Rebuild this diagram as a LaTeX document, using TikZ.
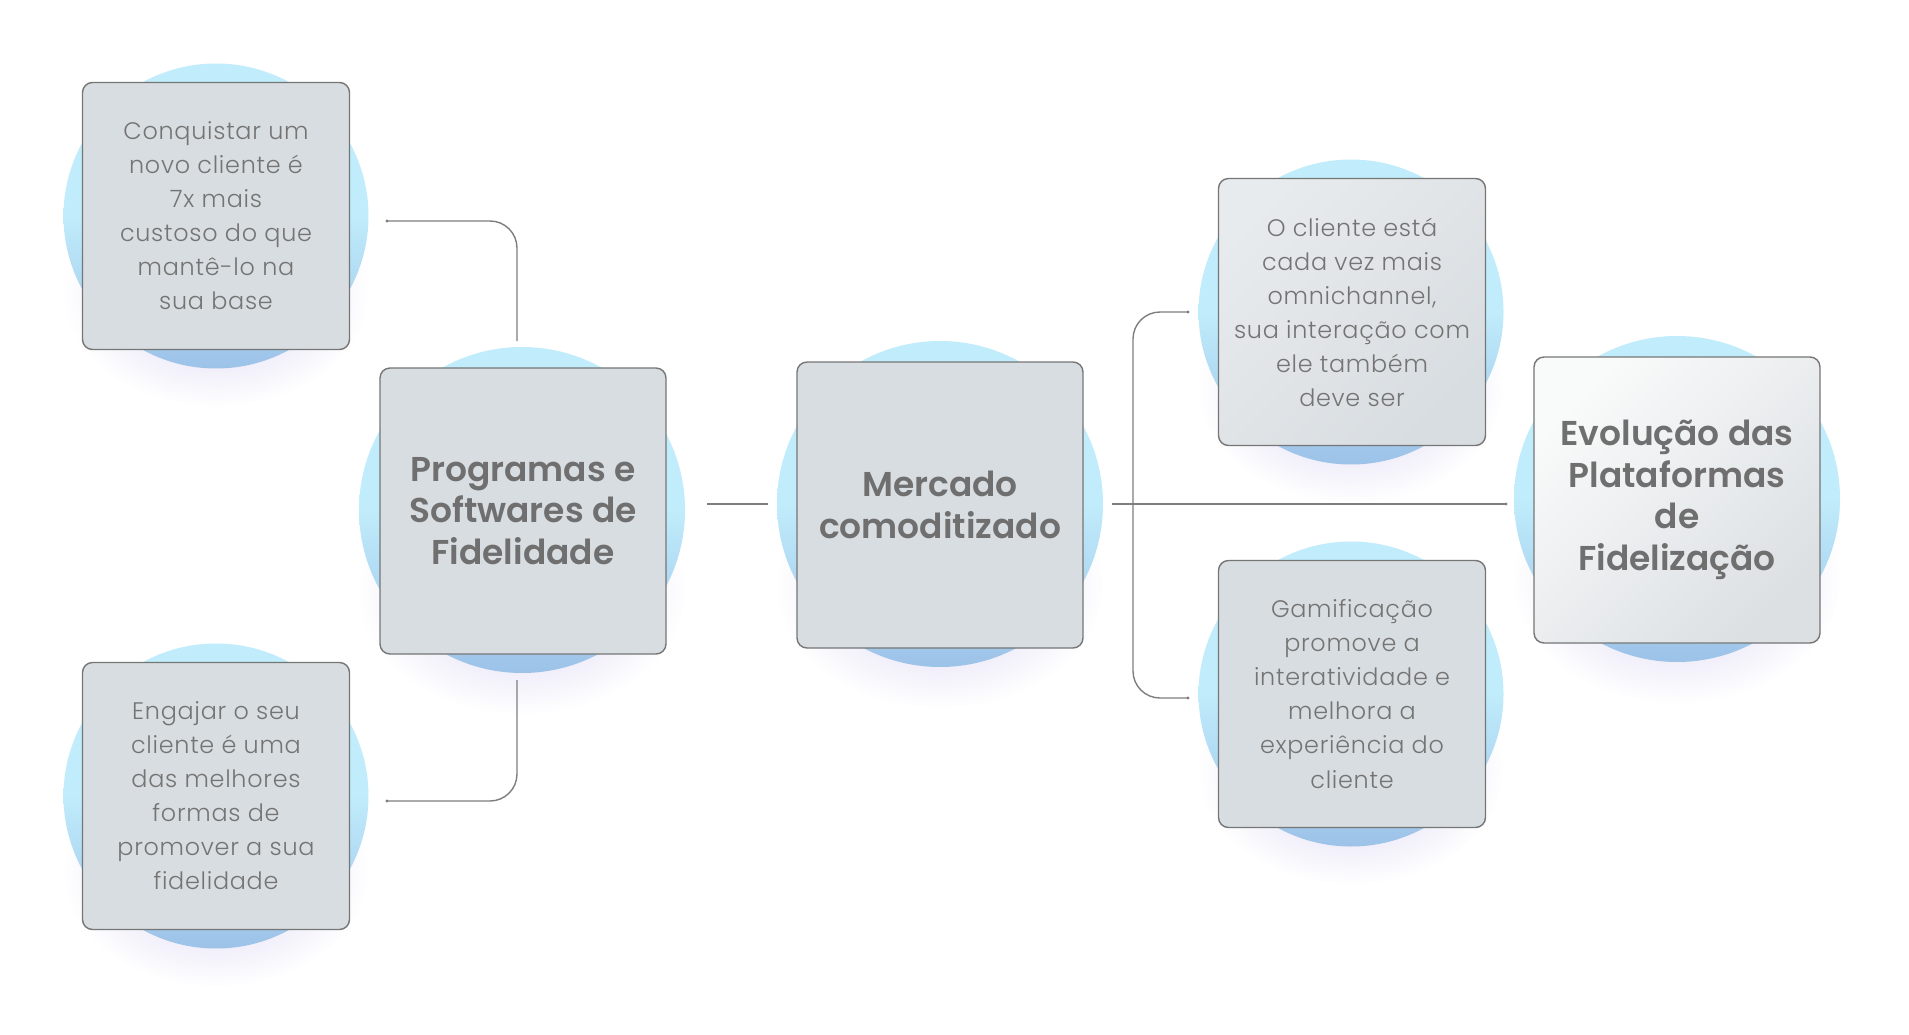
\documentclass[tikz,border=0pt]{standalone}
\usepackage{fontspec}
\setmainfont{Poppins}
\newfontfamily\bodyf[LetterSpace=3]{Poppins Light}
\newfontfamily\titlef{Poppins SemiBold}
\usetikzlibrary{fadings,calc}
\definecolor{cyanL}{HTML}{C0ECFB}
\definecolor{blueB}{HTML}{9CC2E8}
\definecolor{cardF}{HTML}{D8DDE1}
\definecolor{cardL}{HTML}{F9FAFA}
\definecolor{cardM}{HTML}{DCE0E3}
\definecolor{edgeC}{HTML}{767676}
\definecolor{txtC}{HTML}{747474}
\definecolor{ttlC}{HTML}{6F6F6F}
\definecolor{lineC}{HTML}{7E7E7E}
\definecolor{glowC}{HTML}{CFC7EE}
\tikzfading[name=softglow, inner color=transparent!15, outer color=transparent!100]
\begin{document}
\begin{tikzpicture}[x=0.05cm,y=-0.05cm,
  bubble/.style={circle, minimum size=#1, inner sep=0pt, draw=none,
    top color=cyanL, bottom color=blueB, middle color=cyanL},
  card/.style={draw=edgeC, line width=2pt, rounded corners=0.5cm, fill=cardF,
    minimum width=#1, minimum height=#1, inner sep=0pt, align=center},
  smalltxt/.style={text=txtC, font=\bodyf\fontsize{34pt}{48.4pt}\selectfont},
  bigtxt/.style={text=ttlC, font=\titlef\fontsize{49pt}{59pt}\selectfont},
  link/.style={draw=lineC, line width=2pt},
  enddot/.style={fill=lineC, radius=2.2pt}]
\useasboundingbox[fill=white] (0,0) rectangle (1909,1034);

% soft glows below the circles
\foreach \cx/\cy/\r in {216/216/152, 216/796/152, 522/510/163, 940/504/163, 1351/312/152, 1351/694/152, 1677/499/163}{
  \fill[glowC, path fading=softglow] (\cx,\cy+0.5*\r) ellipse ({1.0*\r} and {0.75*\r});
}

% circles
\node[bubble=15.25cm] (c1) at (216,216) {};
\node[bubble=15.25cm] (c4) at (216,796) {};
\node[bubble=16.3cm] (c2) at (522,510) {};
\node[bubble=16.3cm] (c3) at (940,504) {};
\node[bubble=15.25cm] (c5) at (1351,312) {};
\node[bubble=15.25cm] (c6) at (1351,694) {};
\node[bubble=16.3cm] (c7) at (1677,499) {};

% cards
\node[card=13.35cm, smalltxt] (b1) at (216,216) {Conquistar um\\novo cliente é\\7x mais\\custoso do que\\mantê-lo na\\sua base};
\node[card=13.35cm, smalltxt] (b4) at (216,796) {Engajar o seu\\cliente é uma\\das melhores\\formas de\\promover a sua\\fidelidade};
\node[card=14.3cm, bigtxt] (b2) at (523,511) {Programas e\\Softwares de\\Fidelidade};
\node[card=14.3cm, bigtxt] (b3) at (940,505) {Mercado\\comoditizado};
\node[card=13.35cm, smalltxt, top color=cardF!60!white, bottom color=cardF, shading angle=45] (b5) at (1352,312) {O cliente está\\cada vez mais\\omnichannel,\\sua interação com\\ele também\\deve ser};
\node[card=13.35cm, smalltxt] (b6) at (1352,694) {Gamificação\\promove a\\interatividade e\\melhora a\\experiência do\\cliente};
\node[card=14.3cm, bigtxt, top color=cardL, bottom color=cardM, shading angle=45] (b7) at (1677,500) {Evolução das\\Plataformas\\de\\Fidelização};

% connector end points
\coordinate (t1) at (387,221);
\coordinate (t1b) at (517,341);
\coordinate (t4) at (387,801);
\coordinate (t4b) at (517,680);
\coordinate (m1) at (707,504);
\coordinate (m2) at (768,504);
\coordinate (n1) at (1112,504);
\coordinate (n2) at (1506,504);
\coordinate (r5) at (1188,312);
\coordinate (r6) at (1188,698);
\coordinate (rv) at (1133,504);

\draw[link, rounded corners=1.35cm] (t1) -| (t1b);
\draw[link, rounded corners=1.35cm] (t4) -| (t4b);
\draw[link] (m1) -- (m2);
\draw[link] (n1) -- (n2);
\draw[link, rounded corners=1.35cm] (r5) -| (rv) |- (r6);
\foreach \p in {t1,t4,n2,r5,r6}{\fill[enddot] (\p) circle;}
\end{tikzpicture}
\end{document}
